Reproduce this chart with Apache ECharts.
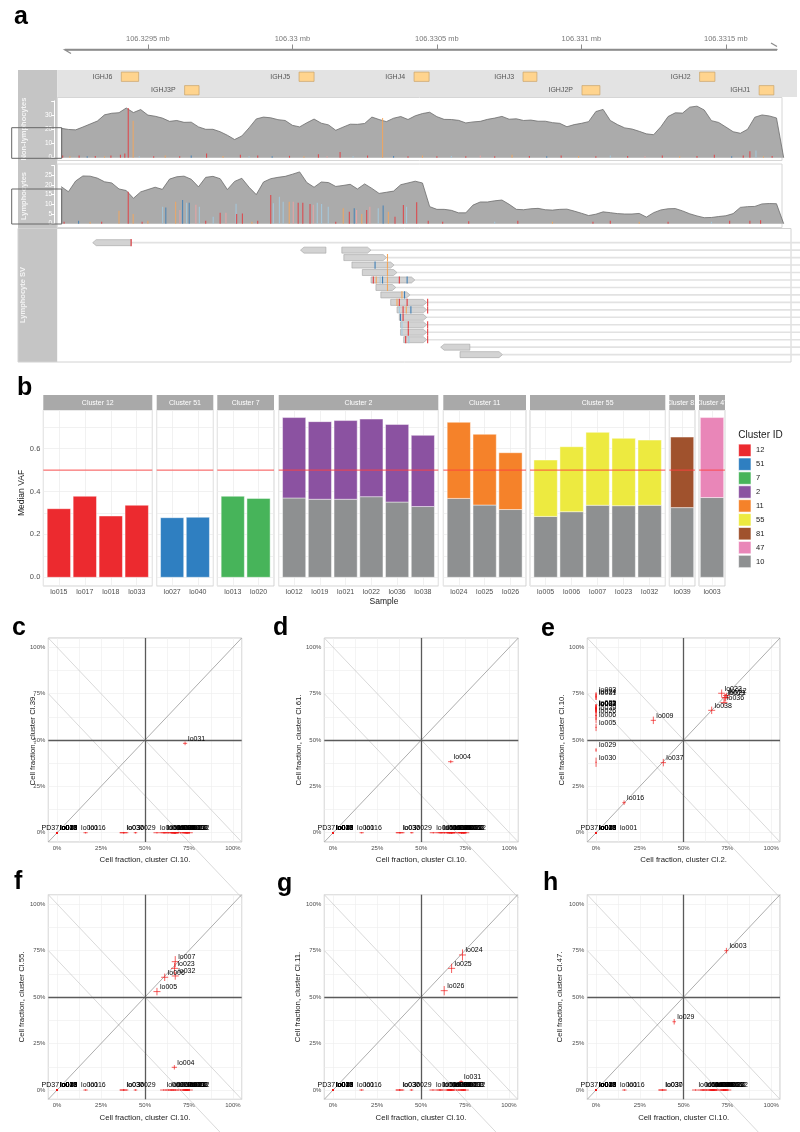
<!DOCTYPE html>
<html>
<head>
<meta charset="utf-8">
<script src="https://cdn.jsdelivr.net/npm/echarts@6.0.0/dist/echarts.min.js"></script>
<style>
html,body{margin:0;padding:0;background:#ffffff;}
#chart{width:800px;height:1132px;}
</style>
</head>
<body>
<div id="chart"></div>
<script>
// ======================= DATA =======================
const FONT = "'Liberation Sans', Arial, Helvetica, sans-serif";

// ---- Panel a : genome region (bp offsets from genomeBase) ----
const genomeBase = 106329000;
const genomeTicks = [500, 1000, 1500, 2000, 2500];
const geneNames = ['IGHJ6', 'IGHJ3P', 'IGHJ5', 'IGHJ4', 'IGHJ3', 'IGHJ2P', 'IGHJ2', 'IGHJ1'];
const geneStart = [408, 627, 1023, 1421, 1798, 2002, 2409, 2615];
const geneEnd   = [468, 677, 1075, 1473, 1846, 2064, 2462, 2666];
const geneRow   = [0, 1, 0, 0, 0, 1, 0, 1];

// coverage in 25-bp bins starting at bp offset 200
const covBinStart = 200, covBinWidth = 25;
const covNonLymph = [20.7,19.9,19.6,21.6,23.7,25.8,30.2,31.3,31.7,35.0,
  31.8,33.9,30.0,29.2,27.9,25.6,26.2,24.9,25.0,21.7,
  20.0,20.0,18.3,15.8,12.8,15.3,21.0,27.3,28.6,28.1,
  26.8,26.2,22.8,21.7,24.6,27.2,24.3,23.1,19.3,21.5,
  23.6,23.5,24.1,28.6,26.9,25.4,27.8,29.0,26.9,29.5,
  31.1,32.0,28.9,27.0,26.9,26.3,24.5,25.2,25.6,27.0,
  27.9,29.1,27.1,27.4,26.2,26.5,25.7,25.7,24.7,24.2,
  21.8,23.3,24.2,25.4,32.5,34.0,26.2,23.3,21.0,20.2,
  18.6,16.8,16.2,21.8,29.0,31.6,31.4,35.6,36.3,33.6,
  26.1,24.8,21.6,18.3,17.2,20.0,28.5,30.1,29.4,28.0, 0];
const covLymph = [19.1,16.5,22.0,24.6,24.5,23.5,21.6,21.0,17.9,17.1,
  13.1,16.4,17.6,18.8,17.7,23.0,24.2,24.5,22.9,19.0,
  23.9,24.4,23.2,17.6,21.8,23.4,18.8,15.0,21.5,23.2,
  23.9,24.4,25.5,26.7,21.2,18.8,21.5,21.2,19.2,19.7,
  20.3,17.9,20.5,18.2,15.6,16.2,16.8,20.1,21.0,21.9,
  21.0,8.8,7.4,7.4,6.9,5.6,5.6,9.6,11.2,11.2,
  11.8,12.2,10.0,7.4,7.2,7.7,7.9,7.2,7.0,7.4,
  7.5,6.5,5.4,4.2,4.9,6.1,5.7,5.2,5.0,5.0,
  5.3,3.4,5.7,7.1,7.7,7.8,6.6,5.1,4.0,3.1,
  3.2,3.7,4.1,5.2,8.4,8.8,8.9,10.2,10.4,10.3, 0];

// mismatch bars: [bp offset, read count, colour index]
const variantColors = ['#E33B3F', '#F4A65C', '#A3CBE2', '#3F7FB6', '#F0A3A3'];
const varNonLymph = [[432,35,0],[449,26,1],[1312,28,1],[2583,4.5,0],[2604,5,2],
  [205,1.5,0],[230,1,1],[262,1.5,0],[290,1,3],[318,1.2,0],[350,1,1],[372,1.5,0],[405,2,0],[420,3,0],[470,1,2],
  [520,1,0],[560,1.5,1],[610,1,0],[650,1.5,3],[703,3,0],[760,1.2,1],[820,2,0],[850,1,2],[880,1.5,0],[930,1,3],
  [990,1.3,0],[1040,1,1],[1090,2.5,0],[1120,1,4],[1165,4,0],[1210,1,2],[1260,1.5,0],[1350,1.2,3],[1400,1,0],
  [1450,1.5,1],[1500,1,0],[1550,1.2,2],[1600,1,0],[1650,1.5,4],[1700,1,0],[1760,2,1],[1820,1.2,0],[1880,1,3],
  [1930,1.5,0],[1990,1.2,1],[2050,1,0],[2100,1.5,2],[2160,1.2,0],[2220,1,4],[2280,1.5,0],[2340,1,1],[2400,1.2,0],
  [2460,2,0],[2520,1,3],[2560,1.5,0],[2630,1,1],[2660,1.2,0]];
const varLymph = [[400,6.7,1],[432,16.5,0],[449,5,1],[551,8.8,2],[562,8.4,3],[596,11.3,1],[611,7,4],[620,12.2,3],
  [634,10.8,2],[643,10.8,3],[666,9.8,4],[678,8.8,2],[726,3.6,2],[750,5.7,0],[770,5.7,4],[805,10.3,2],[807,5,0],
  [827,5.3,0],[925,14.8,0],[934,10.5,2],[955,13.9,2],[968,11.3,2],[989,11.3,1],[1003,11.3,4],[1020,10.8,0],
  [1036,10.8,0],[1061,10.1,0],[1072,9.8,4],[1086,10.8,2],[1101,10.1,2],[1124,8.8,2],[1176,7.9,1],[1197,6.2,0],
  [1214,7.9,3],[1222,7,4],[1240,5,1],[1257,7,0],[1268,8.8,4],[1297,7.9,2],[1314,9.4,3],[1332,6.2,1],[1355,3.6,0],
  [1384,9.6,0],[1395,8.8,2],[1430,11,0],
  [210,1,0],[260,1.5,3],[300,1,1],[340,1,0],[480,1,0],[500,1.5,1],[700,1.5,0],[860,1,1],[880,1.5,0],[1150,1,0],
  [1470,1.5,0],[1520,1,0],[1610,1.2,0],[1700,1,2],[1780,1.5,0],[1900,1,1],[2040,1,0],[2100,1.5,0],[2200,1,1],
  [2300,1,0],[2450,1,2],[2513,1.5,0],[2583,1.5,0],[2620,1.8,0]];

// lymphocyte SV reads
const svReadStart  = [309, 1028, 1171, 1178, 1206, 1242, 1272, 1289, 1306, 1340, 1362, 1370, 1374, 1374, 1385, 1513, 1580];
const svReadEnd    = [442, 1116, 1272, 1326, 1352, 1362, 1424, 1358, 1407, 1465, 1465, 1465, 1465, 1465, 1465, 1614, 1727];
const svReadStrand = [-1, -1, 1, 1, 1, 1, 1, 1, 1, 1, 1, 1, 1, 1, 1, -1, 1];
const svReadRow    = [1, 2, 2, 3, 4, 5, 6, 7, 8, 9, 10, 11, 12, 13, 14, 15, 16];
const svLinkStart  = [442, 1272, 1326, 1352, 1362, 1424, 1358, 1407, 1465, 1465, 1465, 1465, 1465, 1465, 1614, 1727];
const svMateBeyond = 3200;
const svMarks = [[442,0,1],[1329,1,3],[1286,3,4],[1329,1,4],[1329,1,5],[1280,0,6],[1290,1,6],[1304,2,6],[1312,3,6],
  [1329,1,6],[1370,0,6],[1397,3,6],[1329,1,7],[1379,1,8],[1388,3,8],[1362,1,9],[1370,0,9],[1397,0,9],[1468,0,9],
  [1370,2,10],[1383,0,10],[1394,1,10],[1410,3,10],[1468,0,10],[1374,3,11],[1383,0,11],[1379,2,12],[1401,0,12],
  [1468,0,12],[1379,2,13],[1401,0,13],[1468,0,13],[1392,0,14],[1403,2,14],[1468,0,14]];

// ---- Panel b : median VAF ----
const facetTitles = ['Cluster 12', 'Cluster 51', 'Cluster 7', 'Cluster 2', 'Cluster 11', 'Cluster 55', 'Cluster 81', 'Cluster 47'];
const facetClusters = ['12', '51', '7', '2', '11', '55', '81', '47'];
const facetSamples = [['lo015','lo017','lo018','lo033'], ['lo027','lo040'], ['lo013','lo020'],
  ['lo012','lo019','lo021','lo022','lo036','lo038'], ['lo024','lo025','lo026'],
  ['lo005','lo006','lo007','lo023','lo032'], ['lo039'], ['lo003']];
const vafCluster10 = [[0,0,0,0], [0,0], [0,0], [0.370,0.364,0.364,0.376,0.351,0.330],
  [0.368,0.337,0.316], [0.284,0.306,0.336,0.334,0.336], [0.325], [0.372]];
const vafOwn = [[0.320,0.378,0.286,0.336], [0.278,0.280], [0.378,0.368], [0.375,0.362,0.367,0.362,0.362,0.332],
  [0.355,0.330,0.265], [0.263,0.303,0.340,0.314,0.304], [0.329], [0.373]];
const clusterIds = ['12', '51', '7', '2', '11', '55', '81', '47', '10'];
const clusterColors = ['#EC2A2F', '#2F7FC1', '#47B45A', '#8B52A1', '#F5822A', '#EDEA40', '#A0522D', '#E986B8', '#8E9091'];
const vafLine = 0.5;

// ---- Panels c-h : cell fractions ----
const sampleIds = ['PD37', 'lo001', 'lo003', 'lo004', 'lo005', 'lo006', 'lo007', 'lo009', 'lo012', 'lo013',
  'lo015', 'lo016', 'lo017', 'lo018', 'lo019', 'lo020', 'lo021', 'lo022', 'lo023', 'lo024',
  'lo025', 'lo026', 'lo027', 'lo029', 'lo030', 'lo031', 'lo032', 'lo033', 'lo036', 'lo037',
  'lo038', 'lo039', 'lo040'];
const cl10Frac = [0, 0, 0.744, 0.667, 0.568, 0.612, 0.672, 0.606, 0.740, 0,
  0, 0.162, 0, 0, 0.728, 0, 0.728, 0.752, 0.668, 0.736,
  0.674, 0.632, 0, 0.446, 0.380, 0.728, 0.672, 0, 0.702, 0.378,
  0.660, 0.650, 0];
const cl10Err = [0.004, 0.004, 0.012, 0.015, 0.02, 0.02, 0.02, 0.02, 0.015, 0.004,
  0.004, 0.012, 0.004, 0.004, 0.02, 0.004, 0.02, 0.02, 0.02, 0.02,
  0.02, 0.02, 0.004, 0.01, 0.025, 0.012, 0.02, 0.004, 0.02, 0.02,
  0.02, 0.02, 0.004];
// [fraction, error] for samples carrying the cluster on the other axis
const clusterCl39 = {lo031: [0.482, 0.010]};
const clusterCl61 = {lo004: [0.383, 0.008]};
const clusterCl2  = {lo012: [0.745, 0.02], lo019: [0.735, 0.02], lo021: [0.740, 0.02], lo022: [0.717, 0.02],
  lo036: [0.730, 0.02], lo038: [0.660, 0.02], lo009: [0.327, 0.015], lo037: [0.384, 0.015], lo016: [0.160, 0.01]};
const clusterCl55 = {lo005: [0.529, 0.02], lo006: [0.606, 0.02], lo007: [0.690, 0.03], lo023: [0.654, 0.03],
  lo032: [0.613, 0.02], lo004: [0.122, 0.012]};
const clusterCl11 = {lo024: [0.726, 0.03], lo025: [0.654, 0.025], lo026: [0.534, 0.025], lo031: [0.045, 0.008]};
const clusterCl47 = {lo003: [0.749, 0.015], lo029: [0.367, 0.015]};
// guide lines (slope/intercept endpoints over the panel's x-range)
const guideLines = {diag: [[-0.05, -0.05], [1.05, 1.05]], anti: [[-0.05, 1.05], [1.05, -0.05]], anti2: [[-0.05, 0.75], [1.05, -0.35]]};
const labelNudge = {PD37: -18.5, lo001: 21};

// ======================= BUILD =======================
const grids = [], xAxes = [], yAxes = [], series = [], graphics = [];
function addGrid(g, xa, ya) {
  const i = grids.length;
  grids.push(g); xa.gridIndex = i; ya.gridIndex = i; xAxes.push(xa); yAxes.push(ya);
  return i;
}
function txt(x, y, text, size, color, opts) {
  opts = opts || {};
  return {
    type: 'text', x: x, y: y, rotation: opts.rotation || 0, z: opts.z || 20, silent: true,
    style: {text: text, fill: color, font: (opts.bold ? 'bold ' : '') + size + 'px ' + FONT,
      textAlign: opts.align || 'center', textVerticalAlign: opts.valign || 'middle',
      align: opts.align || 'center', verticalAlign: opts.valign || 'middle'}
  };
}

// ---------- Panel a ----------
const aPx500 = 147.9, aPxPerBp = 0.289;
const pxToBp = px => 500 + (px - aPx500) / aPxPerBp;
const aLeft = 57.2, bpMin = pxToBp(57.2), bpMax = 2700;
const aWidth = (bpMax - bpMin) * aPxPerBp;

// genome axis
const axL = 65, axR = 777;
addGrid({left: axL, top: 46.5, width: axR - axL, height: 3},
  {type: 'value', position: 'top', min: pxToBp(axL), max: pxToBp(axR),
    axisLine: {show: true, lineStyle: {color: '#8c8c8c', width: 1.3}},
    axisTick: {show: true, inside: false, length: 5, customValues: genomeTicks, lineStyle: {color: '#8c8c8c', width: 1}},
    axisLabel: {show: true, customValues: genomeTicks, margin: 4, fontSize: 7.5, color: '#7a7a7a', fontFamily: FONT,
      formatter: v => parseFloat(((genomeBase + v) / 1e6).toFixed(4)) + ' mb'},
    splitLine: {show: false}},
  {type: 'value', show: false, min: 0, max: 1});
graphics.push({type: 'polyline', z: 5, silent: true, shape: {points: [[71, 53.5], [65, 50], [axR, 50]]}, style: {stroke: '#8c8c8c', lineWidth: 1.3, fill: null}});
graphics.push({type: 'polyline', z: 5, silent: true, shape: {points: [[axR - 6, 43], [axR, 46.5]]}, style: {stroke: '#8c8c8c', lineWidth: 1.3, fill: null}});

// backgrounds
graphics.push({type: 'rect', z: -2, silent: true, shape: {x: 18, y: 70, width: 39.2, height: 292}, style: {fill: '#c5c5c5'}});
graphics.push({type: 'rect', z: -2, silent: true, shape: {x: 57.2, y: 70, width: 739.8, height: 27}, style: {fill: '#e3e3e3'}});
graphics.push({type: 'rect', z: 1, silent: true, shape: {x: 57.2, y: 97.5, width: 724.8, height: 63}, style: {fill: null, stroke: '#d6d6d6', lineWidth: 1}});
graphics.push({type: 'rect', z: 1, silent: true, shape: {x: 57.2, y: 164, width: 724.8, height: 63.5}, style: {fill: null, stroke: '#d6d6d6', lineWidth: 1}});
graphics.push({type: 'rect', z: 1, silent: true, shape: {x: 18, y: 228.5, width: 773, height: 133.5}, style: {fill: null, stroke: '#d2d2d2', lineWidth: 1}});
graphics.push(txt(24, 129, 'Non-lymphocytes', 7.5, '#f4f4f4', {rotation: Math.PI / 2, bold: true}));
graphics.push(txt(24, 196, 'Lymphocytes', 7.5, '#f4f4f4', {rotation: Math.PI / 2, bold: true}));
graphics.push(txt(23, 295, 'Lymphocyte SV', 7.5, '#f4f4f4', {rotation: Math.PI / 2, bold: true}));
graphics.push({type: 'rect', z: 30, silent: true, shape: {x: 11.7, y: 127.7, width: 50, height: 30.6}, style: {fill: null, stroke: '#666666', lineWidth: 1}});
graphics.push({type: 'rect', z: 30, silent: true, shape: {x: 11.7, y: 189, width: 50, height: 35}, style: {fill: null, stroke: '#666666', lineWidth: 1}});

// gene track
const gGene = addGrid({left: aLeft, top: 70, width: aWidth, height: 27},
  {type: 'value', show: false, min: bpMin, max: bpMax},
  {type: 'value', show: false, min: -0.5, max: 1.5, inverse: true});
series.push({type: 'custom', xAxisIndex: gGene, yAxisIndex: gGene, silent: true, clip: false, z: 3,
  data: geneNames.map((n, i) => [geneStart[i], geneEnd[i], geneRow[i], i]),
  encode: {x: [0, 1], y: 2},
  renderItem: function (params, api) {
    const p1 = api.coord([api.value(0), api.value(2)]);
    const p2 = api.coord([api.value(1), api.value(2)]);
    const h = 9.3;
    return {type: 'group', children: [
      {type: 'rect', shape: {x: p1[0], y: p1[1] - h / 2, width: p2[0] - p1[0], height: h},
        style: {fill: '#FFD48E', stroke: '#C9A46A', lineWidth: 0.7}},
      {type: 'text', style: {x: p1[0] - 9, y: p1[1], text: geneNames[api.value(3)], fill: '#555555',
        font: '7px ' + FONT, textAlign: 'right', textVerticalAlign: 'middle', align: 'right', verticalAlign: 'middle'}}
    ]};
  }});

// coverage tracks
function coverageTrack(top, height, ymax, interval, cov, variants) {
  const g = addGrid({left: aLeft, top: top, width: aWidth, height: height},
    {type: 'value', show: false, min: bpMin, max: bpMax},
    {type: 'value', min: 0, max: ymax, interval: interval, position: 'left', offset: 3, z: 5,
      axisLine: {show: true, lineStyle: {color: '#ffffff', width: 1}},
      axisTick: {show: true, length: 3, lineStyle: {color: '#ffffff', width: 1}},
      axisLabel: {show: true, fontSize: 6.5, color: '#ffffff', margin: 2, fontFamily: FONT,
        formatter: v => (v > ymax - interval * 0.9 ? '' : String(v))},
      splitLine: {show: false}});
  series.push({type: 'line', xAxisIndex: g, yAxisIndex: g, silent: true, z: 2,
    data: cov.map((v, i) => [covBinStart + i * covBinWidth, v]),
    showSymbol: false, symbol: 'none', lineStyle: {color: '#6c6c6c', width: 0.8},
    areaStyle: {color: '#ababab', opacity: 1}});
  series.push({type: 'custom', xAxisIndex: g, yAxisIndex: g, silent: true, z: 3,
    data: variants, encode: {x: 0, y: 1},
    renderItem: function (params, api) {
      const b = api.coord([api.value(0), 0]);
      const t = api.coord([api.value(0), api.value(1)]);
      return {type: 'line', shape: {x1: b[0], y1: b[1], x2: t[0], y2: t[1]},
        style: {stroke: variantColors[api.value(2)], lineWidth: 1.1, opacity: 0.85}};
    }});
  return g;
}
coverageTrack(100.9, 56.8, 40, 10, covNonLymph, varNonLymph);
coverageTrack(165.5, 58.2, 30, 5, covLymph, varLymph);

// SV track
const svRight = 799;
const gSV = addGrid({left: aLeft, top: 235.2, width: svRight - aLeft, height: 126.9},
  {type: 'value', show: false, min: bpMin, max: pxToBp(svRight)},
  {type: 'value', show: false, min: 0, max: 17, inverse: true});
series.push({type: 'custom', xAxisIndex: gSV, yAxisIndex: gSV, silent: true, clip: true, z: 2,
  data: svLinkStart.map((s, i) => [s, svMateBeyond, i + 1]), encode: {x: [0, 1], y: 2},
  renderItem: function (params, api) {
    const a = api.coord([api.value(0), api.value(2)]);
    const b = api.coord([api.value(1), api.value(2)]);
    return {type: 'line', shape: {x1: a[0], y1: a[1], x2: b[0], y2: b[1]}, style: {stroke: '#e2e2e2', lineWidth: 1.6}};
  }});
series.push({type: 'custom', xAxisIndex: gSV, yAxisIndex: gSV, silent: true, clip: true, z: 3,
  data: svReadStart.map((s, i) => [s, svReadEnd[i], svReadRow[i], svReadStrand[i]]), encode: {x: [0, 1], y: 2},
  renderItem: function (params, api) {
    const a = api.coord([api.value(0), api.value(2)]);
    const b = api.coord([api.value(1), api.value(2)]);
    const h = 6, y = a[1], x1 = a[0], x2 = b[0], ah = 3.5;
    const pts = api.value(3) > 0
      ? [[x1, y - h / 2], [x2 - ah, y - h / 2], [x2, y], [x2 - ah, y + h / 2], [x1, y + h / 2]]
      : [[x1 + ah, y - h / 2], [x2, y - h / 2], [x2, y + h / 2], [x1 + ah, y + h / 2], [x1, y]];
    return {type: 'polygon', shape: {points: pts}, style: {fill: '#d3d3d3', stroke: '#a3a3a3', lineWidth: 0.6}};
  }});
series.push({type: 'custom', xAxisIndex: gSV, yAxisIndex: gSV, silent: true, clip: true, z: 4,
  data: svMarks.map(m => [m[0], m[2], m[1]]), encode: {x: 0, y: 1},
  renderItem: function (params, api) {
    const p = api.coord([api.value(0), api.value(1)]);
    return {type: 'line', shape: {x1: p[0], y1: p[1] - 3.6, x2: p[0], y2: p[1] + 3.6},
      style: {stroke: variantColors[api.value(2)], lineWidth: 1.1}};
  }});

// ---------- Panel b ----------
const facetLeft  = [43.3, 156.7, 217.3, 278.7, 443.3, 530, 669.3, 699];
const facetRight = [152.3, 213.3, 274, 438.3, 526, 665.3, 695, 725];
const bTop = 410, bBottom = 586, stripTop = 395;
const bYMin = -0.0406, bYMax = 0.7803;
const barFrac = 0.9;
const vafFmt = v => { const q = v * 5, k = Math.round(q); return (Math.abs(q - k) > 1e-6 || k < 0) ? '' : (k / 5).toFixed(1); };
function segmentRenderer(color) {
  return function (params, api) {
    const x = api.value(0), base = api.value(1), top = base + api.value(2);
    const p0 = api.coord([x - barFrac / 2, base]);
    const p1 = api.coord([x + barFrac / 2, top]);
    return {type: 'rect', shape: {x: p0[0], y: p1[1], width: p1[0] - p0[0], height: p0[1] - p1[1]},
      style: {fill: color, stroke: 'rgba(255,255,255,0.75)', lineWidth: 0.6}};
  };
}
facetTitles.forEach((title, f) => {
  const L = facetLeft[f], R = facetRight[f];
  const n = facetSamples[f].length;
  const pad = n > 1 ? 0.6 : 0.5;
  // strip
  const gs = addGrid({left: L, top: stripTop, width: R - L, height: bTop - stripTop},
    {type: 'value', show: false, min: 0, max: 1}, {type: 'value', show: false, min: 0, max: 1});
  series.push({type: 'custom', xAxisIndex: gs, yAxisIndex: gs, silent: true, clip: true, z: 3,
    data: [[0.5, 0.5]], encode: {x: 0, y: 1},
    renderItem: function (params, api) {
      const cs = params.coordSys;
      return {type: 'group', children: [
        {type: 'rect', shape: {x: cs.x, y: cs.y, width: cs.width, height: cs.height}, style: {fill: '#a9a9a9'}},
        {type: 'text', style: {x: cs.x + cs.width / 2, y: cs.y + cs.height / 2 + 0.5, text: title, fill: '#ffffff',
          font: '7px ' + FONT, textAlign: 'center', textVerticalAlign: 'middle', align: 'center', verticalAlign: 'middle'}}
      ]};
    }});
  // plot
  const samples = facetSamples[f];
  const g = addGrid({left: L, top: bTop, width: R - L, height: bBottom - bTop, show: true, borderColor: '#c8c8c8', borderWidth: 0.8},
    {type: 'value', min: 1 - pad, max: n + pad, minInterval: 1, maxInterval: 1,
      axisLine: {show: false}, axisTick: {show: false},
      axisLabel: {show: true, fontSize: 7, color: '#4d4d4d', margin: 3, fontFamily: FONT,
        formatter: v => { const k = Math.round(v); return (Math.abs(v - k) > 1e-6 || k < 1 || k > n) ? '' : samples[k - 1]; }},
      splitLine: {show: true, lineStyle: {color: '#ebebeb', width: 0.7}}},
    {type: 'value', min: bYMin, max: bYMax, minInterval: 0.1, maxInterval: 0.1,
      axisLine: {show: false}, axisTick: {show: false},
      axisLabel: {show: f === 0, fontSize: 7.5, color: '#4d4d4d', margin: 3, fontFamily: FONT, formatter: vafFmt},
      splitLine: {show: true, lineStyle: {color: '#ebebeb', width: 0.7}}});
  const grayVals = vafCluster10[f];
  if (grayVals.some(v => v > 0)) {
    series.push({type: 'custom', name: '10', xAxisIndex: g, yAxisIndex: g, silent: true, z: 3,
      itemStyle: {color: clusterColors[8]},
      data: grayVals.map((v, i) => [i + 1, 0, v]), encode: {x: 0, y: [1, 2]},
      renderItem: segmentRenderer(clusterColors[8])});
  }
  const cid = facetClusters[f];
  const col = clusterColors[clusterIds.indexOf(cid)];
  series.push({type: 'custom', name: cid, xAxisIndex: g, yAxisIndex: g, silent: true, z: 3,
    itemStyle: {color: col},
    data: vafOwn[f].map((v, i) => [i + 1, grayVals[i], v]), encode: {x: 0, y: [1, 2]},
    renderItem: segmentRenderer(col)});
  series.push({type: 'line', xAxisIndex: g, yAxisIndex: g, silent: true, z: 4, symbol: 'none',
    data: [[1 - pad, vafLine], [n + pad, vafLine]], lineStyle: {color: '#FF3F3F', width: 1, opacity: 0.9}});
});
graphics.push(txt(22, 493, 'Median VAF', 8.5, '#1a1a1a', {rotation: Math.PI / 2}));
graphics.push(txt(384, 601.7, 'Sample', 8.5, '#1a1a1a'));
graphics.push(txt(738.3, 435, 'Cluster ID', 10, '#1a1a1a', {align: 'left'}));

// ---------- Panels c-h ----------
const pctFmt = v => { const q = v * 4, k = Math.round(q); return (Math.abs(q - k) > 1e-6 || k < 0 || k > 4) ? '' : (k * 25) + '%'; };
function scatterPanel(cfg) {
  const g = addGrid({left: cfg.L, top: cfg.T, width: cfg.R - cfg.L, height: cfg.B - cfg.T, show: true, borderColor: '#b8b8b8', borderWidth: 0.8},
    {type: 'value', min: -0.05, max: 1.05, minInterval: 0.125, maxInterval: 0.125,
      axisLine: {show: false}, axisTick: {show: false},
      axisLabel: {show: true, fontSize: 6, color: '#4d4d4d', margin: 3, fontFamily: FONT, formatter: pctFmt},
      splitLine: {show: true, lineStyle: {color: '#ededed', width: 0.6}}},
    {type: 'value', min: -0.05, max: 1.05, minInterval: 0.125, maxInterval: 0.125,
      axisLine: {show: false}, axisTick: {show: false},
      axisLabel: {show: true, fontSize: 6, color: '#4d4d4d', margin: 3, fontFamily: FONT, formatter: pctFmt},
      splitLine: {show: true, lineStyle: {color: '#ededed', width: 0.6}}});
  series.push({type: 'line', xAxisIndex: g, yAxisIndex: g, silent: true, symbol: 'none', z: 2,
    data: guideLines.anti, lineStyle: {color: '#c9c9c9', width: 0.7}});
  series.push({type: 'line', xAxisIndex: g, yAxisIndex: g, silent: true, symbol: 'none', z: 2, clip: false,
    data: guideLines.anti2, lineStyle: {color: '#c9c9c9', width: 0.7}});
  series.push({type: 'line', xAxisIndex: g, yAxisIndex: g, silent: true, symbol: 'none', z: 2,
    data: guideLines.diag, lineStyle: {color: '#8a8a8a', width: 0.7},
    markLine: {silent: true, symbol: 'none', label: {show: false}, animation: false,
      lineStyle: {color: '#5a5a5a', width: 1.3, type: 'solid'}, data: [{xAxis: 0.5}, {yAxis: 0.5}]}});
  const pts = cfg.points;
  series.push({type: 'custom', xAxisIndex: g, yAxisIndex: g, silent: true, clip: false, z: 4,
    data: pts, encode: {x: 0, y: 1},
    renderItem: function (params, api) {
      const x = api.value(0), y = api.value(1), ex = api.value(2), ey = api.value(3);
      const a = api.coord([x - ex, y]), b = api.coord([x + ex, y]);
      const c = api.coord([x, y - ey]), d = api.coord([x, y + ey]);
      return {type: 'group', children: [
        {type: 'line', shape: {x1: a[0], y1: a[1], x2: b[0], y2: b[1]}, style: {stroke: 'rgba(240,20,20,0.75)', lineWidth: 0.9}},
        {type: 'line', shape: {x1: c[0], y1: c[1], x2: d[0], y2: d[1]}, style: {stroke: 'rgba(240,20,20,0.75)', lineWidth: 0.9}}
      ]};
    }});
  series.push({type: 'custom', xAxisIndex: g, yAxisIndex: g, silent: true, clip: false, z: 5,
    data: pts, encode: {x: 0, y: 1},
    renderItem: function (params, api) {
      const p = api.coord([api.value(0), api.value(1)]);
      const name = sampleIds[api.value(4)];
      const dx = 3 + (labelNudge[name] || 0);
      return {type: 'text', style: {x: p[0] + dx, y: p[1] - 4.5, text: name, fill: '#000000', font: '7px ' + FONT,
        textAlign: 'left', textVerticalAlign: 'middle', align: 'left', verticalAlign: 'middle'}};
    }});
  graphics.push(txt(cfg.yTitleX, (cfg.T + cfg.B) / 2, 'Cell fraction, cluster ' + cfg.yName + '.', 7.8, '#1a1a1a', {rotation: Math.PI / 2}));
  graphics.push(txt((cfg.L + cfg.R) / 2, cfg.xTitleY, 'Cell fraction, cluster ' + cfg.xName + '.', 7.8, '#1a1a1a'));
}
function pointsVsCl10(yCluster) {
  return sampleIds.map((s, i) => {
    const yv = yCluster[s];
    return [cl10Frac[i], yv ? yv[0] : 0, cl10Err[i], yv ? yv[1] : 0.004, i];
  });
}
function pointsCl2() {
  return sampleIds.map((s, i) => {
    const xv = clusterCl2[s];
    return [xv ? xv[0] : 0, cl10Frac[i], xv ? xv[1] : 0.004, cl10Err[i], i];
  });
}
const row1 = {T: 638, B: 842, xTitleY: 860};
const row2 = {T: 894.7, B: 1099.3, xTitleY: 1117.5};
scatterPanel(Object.assign({L: 48.3, R: 241.7, yTitleX: 33.3, yName: 'Cl.39', xName: 'Cl.10', points: pointsVsCl10(clusterCl39)}, row1));
scatterPanel(Object.assign({L: 324.3, R: 518.3, yTitleX: 299.3, yName: 'Cl.61', xName: 'Cl.10', points: pointsVsCl10(clusterCl61)}, row1));
scatterPanel(Object.assign({L: 587.3, R: 780, yTitleX: 562.3, yName: 'Cl.10', xName: 'Cl.2', points: pointsCl2()}, row1));
scatterPanel(Object.assign({L: 48.3, R: 241.7, yTitleX: 21.7, yName: 'Cl.55', xName: 'Cl.10', points: pointsVsCl10(clusterCl55)}, row2));
scatterPanel(Object.assign({L: 324.3, R: 517.7, yTitleX: 297.7, yName: 'Cl.11', xName: 'Cl.10', points: pointsVsCl10(clusterCl11)}, row2));
scatterPanel(Object.assign({L: 587.3, R: 780, yTitleX: 560, yName: 'Cl.47', xName: 'Cl.10', points: pointsVsCl10(clusterCl47)}, row2));

// panel letters
[['a', 14, 17.3], ['b', 17, 388], ['c', 12, 628], ['d', 273, 628], ['e', 541, 629], ['f', 14, 882], ['g', 277, 884], ['h', 543, 883]]
  .forEach(l => graphics.push(txt(l[1], l[2], l[0], 25, '#000000', {bold: true, align: 'left'})));

// ======================= RENDER =======================
const chart = echarts.init(document.getElementById('chart'), null, {renderer: 'canvas', width: 800, height: 1132});
chart.setOption({
  animation: false,
  backgroundColor: '#ffffff',
  textStyle: {fontFamily: FONT},
  grid: grids, xAxis: xAxes, yAxis: yAxes, series: series,
  graphic: {elements: graphics},
  legend: {show: true, data: clusterIds.map(id => ({name: id, icon: 'rect'})), orient: 'vertical',
    left: 738.3, top: 443.8, itemWidth: 12.4, itemHeight: 12.4, itemGap: 0.9, padding: 0, selectedMode: false,
    textStyle: {fontSize: 7.5, color: '#1a1a1a', fontFamily: FONT},
    itemStyle: {borderColor: '#ffffff', borderWidth: 0.6}}
});
</script>
</body>
</html>
